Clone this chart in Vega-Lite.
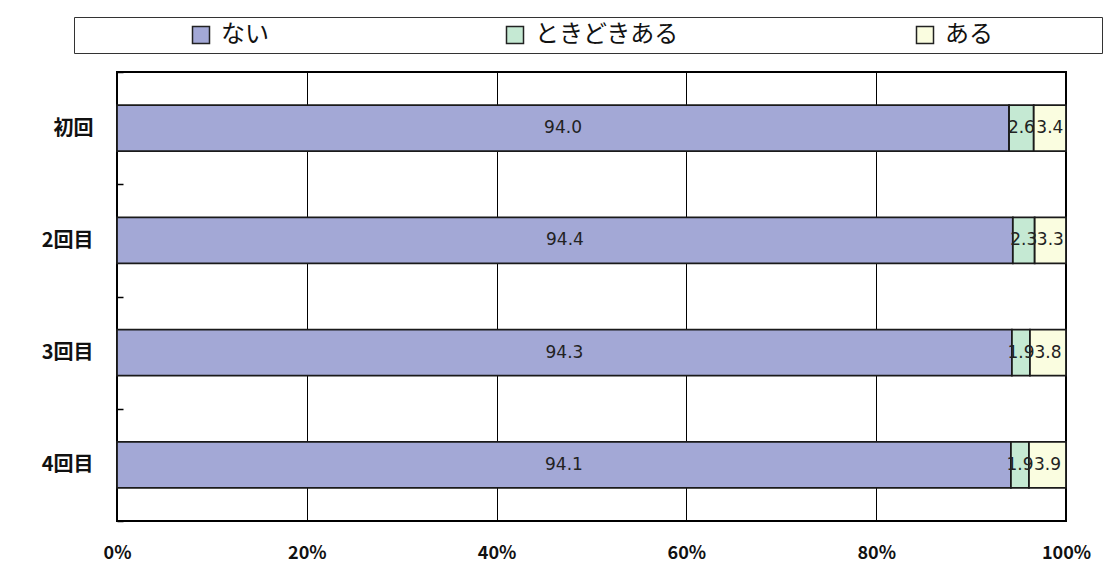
{
  "$schema": "https://vega.github.io/schema/vega-lite/v6.json",
  "width": 949,
  "height": 449,
  "autosize": {"type": "none"},
  "padding": {"left": 117, "top": 72, "right": 49, "bottom": 56},
  "background": "white",
  "config": {
    "view": {"stroke": "black", "strokeWidth": 2},
    "font": "Noto Sans CJK JP"
  },
  "data": {
    "values": [
      {"回": "初回", "回答": "ない", "順": 1, "割合": 94.0},
      {"回": "初回", "回答": "ときどきある", "順": 2, "割合": 2.6},
      {"回": "初回", "回答": "ある", "順": 3, "割合": 3.4},
      {"回": "2回目", "回答": "ない", "順": 1, "割合": 94.4},
      {"回": "2回目", "回答": "ときどきある", "順": 2, "割合": 2.3},
      {"回": "2回目", "回答": "ある", "順": 3, "割合": 3.3},
      {"回": "3回目", "回答": "ない", "順": 1, "割合": 94.3},
      {"回": "3回目", "回答": "ときどきある", "順": 2, "割合": 1.9},
      {"回": "3回目", "回答": "ある", "順": 3, "割合": 3.8},
      {"回": "4回目", "回答": "ない", "順": 1, "割合": 94.1},
      {"回": "4回目", "回答": "ときどきある", "順": 2, "割合": 1.9},
      {"回": "4回目", "回答": "ある", "順": 3, "割合": 3.9}
    ]
  },
  "transform": [
    {"stack": "割合", "groupby": ["回"], "sort": [{"field": "順", "order": "ascending"}], "as": ["x0", "x1"], "offset": "normalize"}
  ],
  "layer": [
    {
      "mark": {"type": "bar", "stroke": "#1a1a1a", "strokeWidth": 1.8, "height": {"band": 0.41}},
      "encoding": {
        "y": {
          "field": "回", "type": "nominal",
          "sort": ["初回", "2回目", "3回目", "4回目"],
          "scale": {"paddingInner": 0, "paddingOuter": 0},
          "axis": {
            "title": null, "domain": false, "ticks": true, "tickBand": "extent",
            "tickSize": -6, "tickColor": "black", "tickWidth": 1.5, "zindex": 1,
            "labelFontSize": 20, "labelFontWeight": "bold", "labelColor": "#111",
            "labelPadding": 30
          }
        },
        "x": {
          "field": "x0", "type": "quantitative",
          "scale": {"domain": [0, 1]},
          "axis": {
            "title": null, "format": ".0%", "values": [0, 0.2, 0.4, 0.6, 0.8, 1],
            "grid": true, "gridColor": "black", "gridWidth": 1,
            "domain": false, "ticks": false,
            "labelFontSize": 18, "labelFontWeight": "bold", "labelColor": "#111",
            "labelPadding": 23, "labelFlush": false
          }
        },
        "x2": {"field": "x1"},
        "color": {
          "field": "回答", "type": "nominal",
          "scale": {"domain": ["ない", "ときどきある", "ある"], "range": ["#a3a8d6", "#c5e9d3", "#fafde0"]},
          "legend": {
            "orient": "none", "legendX": -43, "legendY": -55,
            "direction": "horizontal", "columns": 3, "columnPadding": 125,
            "title": " ", "titleOrient": "right", "titleFontSize": 2, "titlePadding": 103,
            "symbolOffset": 109,
            "strokeColor": "#333", "padding": 6,
            "symbolType": "square", "symbolSize": 289, "symbolStrokeColor": "#222", "symbolStrokeWidth": 1.5,
            "labelFontSize": 24, "labelColor": "#111", "labelOffset": 8, "labelLimit": 400
          }
        }
      }
    },
    {
      "transform": [{"fold": ["x0", "x1"], "as": ["端", "位置"]}],
      "mark": {"type": "text", "font": "DejaVu Sans", "fontSize": 17, "color": "#222"},
      "encoding": {
        "y": {"field": "回", "type": "nominal", "sort": ["初回", "2回目", "3回目", "4回目"]},
        "x": {"aggregate": "mean", "field": "位置", "type": "quantitative"},
        "detail": {"field": "回答"},
        "text": {"field": "割合", "type": "quantitative", "format": ".1f"}
      }
    }
  ]
}
